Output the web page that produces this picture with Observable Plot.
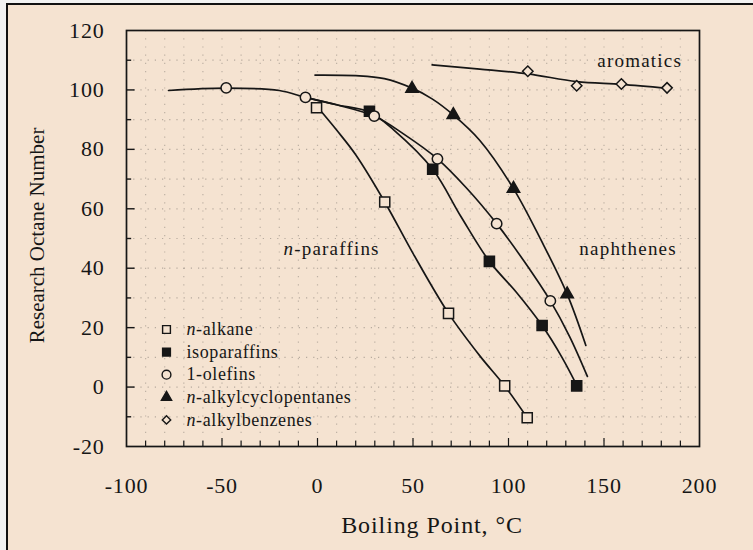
<!DOCTYPE html>
<html>
<head>
<meta charset="utf-8">
<script src="https://cdn.jsdelivr.net/npm/d3@7"></script>
<script src="https://cdn.jsdelivr.net/npm/@observablehq/plot@0.6"></script>
<style>
  html, body { margin: 0; padding: 0; background: #f2f2f2; width: 753px; height: 550px; overflow: hidden; }
  #paper { position: absolute; left: 6px; top: 3px; width: 760px; height: 560px;
           background: #F5E3D1; border-left: 2px solid #111; border-top: 2px solid #111; }
  #chart { position: absolute; left: 0; top: 0; }
</style>
</head>
<body>
<div id="paper"></div>
<div id="chart"></div>
<script>
// ---- measured markers (boiling point °C, research octane number) ----
const alkaneBP  = [-0.5, 35.2, 68.6, 98, 109.8];
const alkaneRON = [94, 62.3, 24.8, 0.4, -10.3];
const isoBP     = [27.2, 60.3, 90, 117.6, 135.7];
const isoRON    = [92.8, 73.3, 42.3, 20.7, 0.4];
const olefinBP  = [-47.8, -6.3, 29.7, 62.8, 93.8, 121.9];
const olefinRON = [100.7, 97.5, 91.2, 76.8, 55, 29];
const cycloBP   = [49.5, 71.1, 102.6, 130.7];
const cycloRON  = [100.4, 91.6, 66.8, 31.3];
const benzBP    = [110.1, 135.7, 159.1, 183];
const benzRON   = [106.3, 101.4, 102, 100.7];

// ---- fitted curves: [bp, RON] ----
const paraffinCurve = [[-1, 95], [10, 86.5], [20, 78.2], [35.2, 62.3], [50, 45], [68.6, 24.8], [85, 10.5], [98, 0.4], [109.8, -10.3]];
const isoCurve      = [[-6.3, 97.5], [10, 95], [27.2, 92.6], [40, 86.5], [60.3, 73.3], [75, 57.5], [90, 42.3], [104, 32], [117.6, 20.7], [128, 10], [137, -1]];
const olefinCurve   = [[-78, 99.8], [-48, 100.6], [-20, 99.8], [-6.3, 97.5], [10, 95], [29.7, 91.2], [45, 85.2], [62.8, 76.8], [78, 67], [93.8, 55], [108, 42.5], [121.9, 29], [132, 17], [141.3, 3.6]];
const naphtheneCurve= [[-1.3, 105], [20, 104.8], [35, 103.8], [49.5, 100.6], [60, 97], [71.1, 91.6], [85, 83], [102.6, 66.8], [117, 49.5], [130.7, 31.3], [140.5, 14]];
const aromaticCurve = [[60, 108.4], [85, 107], [110.1, 105.4], [135.7, 102.8], [159.1, 101.9], [183, 100.6]];

// ---- labels ----
const legendLabels  = ["n-alkane", "isoparaffins", "1-olefins", "n-alkylcyclopentanes", "n-alkylbenzenes"];
const legendSymbols = ["square", "square", "circle", "triangle", "diamond2"];
const legendFilled  = [false, true, false, true, false];
const groupNames    = ["n-paraffins", "naphthenes", "aromatics"];
const groupX        = [-17.8, 137.1, 146.5];
const groupY        = [46.5, 46.5, 109.8];
const xTicks = [-100, -50, 0, 50, 100, 150, 200];
const yTicks = [-20, 0, 20, 40, 60, 80, 100, 120];

const BG = "#F5E3D1";
const INK = "#161616";
const zip = (a, b) => a.map((v, i) => ({x: v, y: b[i]}));
const gridXv = d3.range(-90, 200, 10);
const gridYv = d3.range(-10, 120, 10);

const markerSets = [
  {data: zip(alkaneBP, alkaneRON), symbol: "square", fill: BG, r: 5.7},
  {data: zip(isoBP, isoRON), symbol: "square", fill: INK, r: 5.7},
  {data: zip(olefinBP, olefinRON), symbol: "circle", fill: BG, r: 5.2},
  {data: zip(cycloBP, cycloRON), symbol: "triangle", fill: INK, r: 4.6},
  {data: zip(benzBP, benzRON), symbol: "diamond2", fill: BG, r: 4.7}
];

const marks = [
  Plot.gridY(gridYv, {stroke: "#333", strokeOpacity: 0.32, strokeDasharray: "1.2,6", strokeWidth: 1.2}),
  Plot.gridX(gridXv, {stroke: "#333", strokeOpacity: 0.28, strokeDasharray: "1.2,7", strokeWidth: 1.2}),
  ...[paraffinCurve, isoCurve, olefinCurve, naphtheneCurve, aromaticCurve].map(c =>
    Plot.line(c, {x: d => d[0], y: d => d[1], curve: "catmull-rom", stroke: INK, strokeWidth: 1.7})),
  Plot.frame({stroke: INK, strokeWidth: 1.7}),
  Plot.ruleX(gridXv, {x: d => d, y1: -20, y2: d => d % 50 === 0 ? -17.3 : -18.2, stroke: INK, strokeWidth: 1.2}),
  Plot.ruleY(gridYv, {y: d => d, x1: -100, x2: d => d % 20 === 0 ? -95.5 : -97.3, stroke: INK, strokeWidth: 1.4}),
  Plot.axisX(xTicks, {tickSize: 0, tickPadding: 31, tickFormat: d => String(d), fontSize: 22, label: null}),
  Plot.axisY(yTicks, {tickSize: 0, tickPadding: 22, tickFormat: d => String(d), fontSize: 22, label: null}),
  ...markerSets.map(s => Plot.dot(s.data, {x: "x", y: "y", symbol: s.symbol, r: s.r, fill: s.fill, stroke: INK, strokeWidth: 1.5})),
  Plot.text(groupNames, {x: (d, i) => groupX[i], y: (d, i) => groupY[i], text: d => d, textAnchor: "start", fontSize: 19, fill: INK, className: "spaced-lg"}),
  Plot.text(["Boiling Point, °C"], {frameAnchor: "bottom", textAnchor: "middle", dx: 19, dy: 79, text: d => d, fontSize: 24, fill: INK, lineAnchor: "middle", className: "spaced-md"}),
  Plot.text(["Research Octane Number"], {frameAnchor: "left", textAnchor: "middle", dx: -89, dy: -3, rotate: -90, text: d => d, fontSize: 21, fill: INK, lineAnchor: "middle"}),
  ...legendLabels.flatMap((lab, i) => [
    Plot.dot([lab], {frameAnchor: "bottom-left", dx: 40, dy: -117 + 22.6 * i, symbol: legendSymbols[i],
      r: legendSymbols[i] === "triangle" ? 3.8 : legendSymbols[i] === "diamond2" ? 3.8 : 4.4,
      fill: legendFilled[i] ? INK : BG, stroke: INK, strokeWidth: 1.4}),
    Plot.text([lab], {frameAnchor: "bottom-left", dx: 60, dy: -117 + 22.6 * i, text: d => d, textAnchor: "start",
      fontSize: 18, fill: INK, lineAnchor: "middle", className: "spaced-sm"})
  ])
];

const chart = Plot.plot({
  width: 753,
  height: 550,
  marginLeft: 126,
  marginRight: 54,
  marginTop: 30,
  marginBottom: 104,
  x: {domain: [-100, 200]},
  y: {domain: [-20, 120]},
  style: {background: "transparent", fontFamily: "'Liberation Serif', 'Times New Roman', serif", color: INK, overflow: "visible"},
  marks
});

// italic "n" prefix
const ns = "http://www.w3.org/2000/svg";
chart.querySelectorAll("text").forEach(t => {
  if (t.childElementCount === 0 && t.textContent.startsWith("n-")) {
    const rest = t.textContent.slice(1);
    t.textContent = "";
    const it = document.createElementNS(ns, "tspan");
    it.setAttribute("font-style", "italic");
    it.textContent = "n";
    t.append(it, rest);
  }
});
chart.querySelectorAll(".spaced-lg text").forEach(t => t.style.letterSpacing = "1.2px");
chart.querySelectorAll(".spaced-md text").forEach(t => t.style.letterSpacing = "0.9px");
chart.querySelectorAll(".spaced-sm text").forEach(t => t.style.letterSpacing = "0.6px");
chart.querySelectorAll('[aria-label="x-axis tick label"] text, [aria-label="y-axis tick label"] text').forEach(t => t.style.letterSpacing = "0.8px");
document.getElementById("chart").append(chart);
</script>
</body>
</html>
